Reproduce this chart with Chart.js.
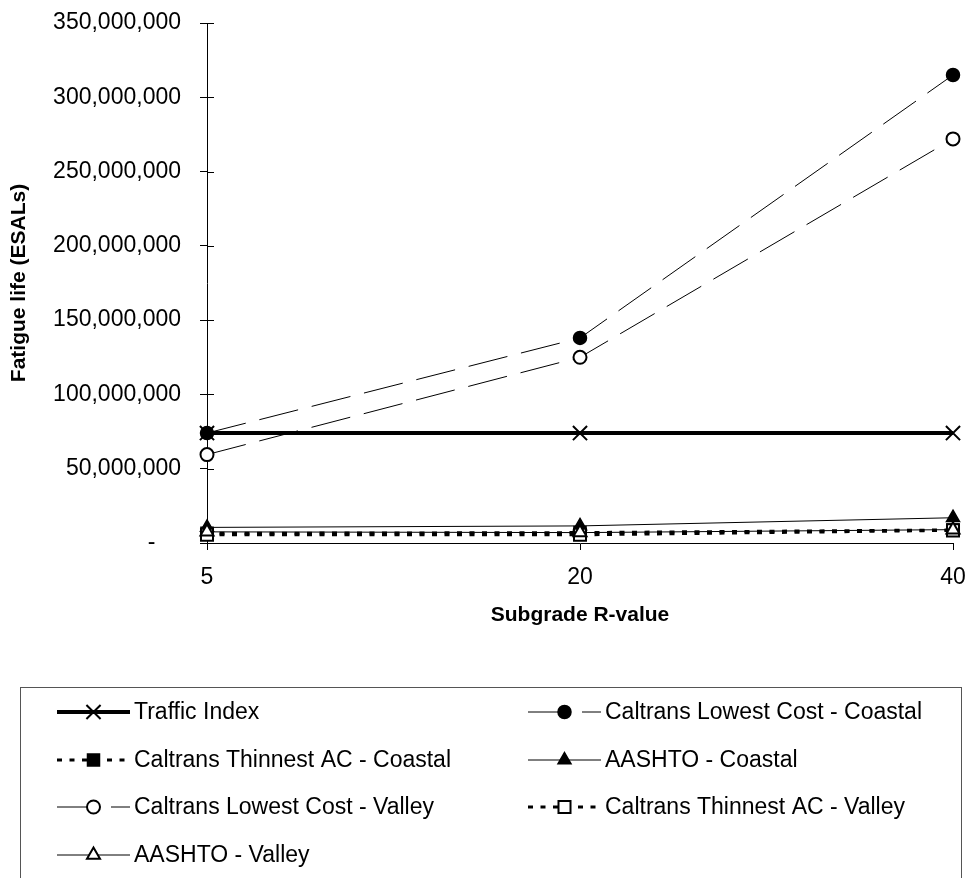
<!DOCTYPE html>
<html>
<head>
<meta charset="utf-8">
<script src="https://cdn.jsdelivr.net/npm/chart.js@4/dist/chart.umd.min.js"></script>
<style>
  html, body { margin: 0; padding: 0; background: #fff; overflow: hidden; }
  canvas { display: block; }
</style>
</head>
<body>
<canvas id="fatigueChart" width="967" height="878"></canvas>
<script>
// chart data
const rValues = ['5', '20', '40'];
const yTickValues = [0, 50e6, 100e6, 150e6, 200e6, 250e6, 300e6, 350e6];

const trafficIndex = [74e6, 74e6, 74e6];
const lowestCostCoastal = [74e6, 138e6, 315e6];
const thinnestCoastal = [6.5e6, 7e6, 8.8e6];
const aashtoCoastal = [10.5e6, 11.5e6, 17e6];
const lowestCostValley = [59.5e6, 125e6, 272e6];
const thinnestValley = [5.5e6, 5.5e6, 8.5e6];
const aashtoValley = [7.5e6, 7e6, 9e6];

const FONT = '"Liberation Sans", Arial, sans-serif';
Chart.defaults.font.family = FONT;
Chart.defaults.color = '#000';

const fmt = (v) => v === 0 ? '-    ' : String(Math.round(v)).replace(/\B(?=(\d{3})+(?!\d))/g, ',');

// draws the legend box under the plot
const legendBox = {
    id: 'legendBox',
    afterDraw(chart) {
        const ctx = chart.ctx;
        ctx.save();
        ctx.strokeStyle = '#555';
        ctx.lineWidth = 1;
        ctx.strokeRect(20.5, 687.5, 941, 260);

        chart.data.datasets.forEach((ds, i) => {
            const col = i % 2, row = Math.floor(i / 2);
            const x0 = col ? 528 : 57;
            const y = Math.round(712 + row * 47.7);

            ctx.setLineDash(ds.borderDash || []);
            ctx.lineWidth = ds.borderWidth;
            ctx.strokeStyle = ds.borderColor;
            ctx.beginPath();
            ctx.moveTo(x0, y);
            ctx.lineTo(x0 + 73, y);
            ctx.stroke();

            ctx.setLineDash([]);
            ctx.fillStyle = ds.pointBackgroundColor;
            ctx.strokeStyle = ds.pointBorderColor;
            ctx.lineWidth = ds.pointBorderWidth;
            Chart.helpers.drawPoint(ctx, {
                pointStyle: ds.pointStyle,
                radius: ds.pointRadius,
                borderWidth: ds.pointBorderWidth,
                rotation: 0
            }, x0 + 36.5, y);

            ctx.fillStyle = '#000';
            ctx.font = '23px ' + FONT;
            ctx.textBaseline = 'middle';
            ctx.textAlign = 'left';
            ctx.fillText(ds.label, x0 + 77, y + 1);
        });
        ctx.restore();
    }
};

// y tick marks cross the axis (inner half)
const innerTicks = {
    id: 'innerTicks',
    afterDatasetsDraw(chart) {
        const ctx = chart.ctx, y = chart.scales.y;
        ctx.save();
        ctx.strokeStyle = '#000';
        ctx.lineWidth = 1;
        y.ticks.forEach(t => {
            const py = Math.round(y.getPixelForValue(t.value)) + 0.5;
            ctx.beginPath();
            ctx.moveTo(y.right, py);
            ctx.lineTo(y.right + 7, py);
            ctx.stroke();
        });
        ctx.restore();
    }
};

function series(label, data, opts) {
    return Object.assign({
        label,
        data,
        borderColor: '#000',
        borderWidth: 1,
        borderDash: [],
        pointBorderColor: '#000',
        pointBackgroundColor: '#000',
        pointBorderWidth: 1.5,
        pointRadius: 6.5,
        pointStyle: 'circle',
        tension: 0,
        fill: false,
        clip: false
    }, opts);
}

const datasets = [
    series('Traffic Index', trafficIndex, { borderWidth: 4, pointStyle: 'crossRot', pointRadius: 10, pointBorderWidth: 2 }),
    series('Caltrans Lowest Cost - Coastal', lowestCostCoastal, { borderDash: [40, 14] }),
    series('Caltrans Thinnest AC - Coastal', thinnestCoastal, { borderWidth: 3, borderDash: [5, 7.5], pointStyle: 'rect', pointRadius: 8.5 }),
    series('AASHTO - Coastal', aashtoCoastal, { pointStyle: 'triangle', pointRadius: 7.5 }),
    series('Caltrans Lowest Cost - Valley', lowestCostValley, { borderDash: [40, 14], pointBackgroundColor: '#fff', pointBorderWidth: 2 }),
    series('Caltrans Thinnest AC - Valley', thinnestValley, { borderWidth: 3, borderDash: [5, 7.5], pointStyle: 'rect', pointRadius: 8.5, pointBackgroundColor: '#fff', pointBorderWidth: 2 }),
    series('AASHTO - Valley', aashtoValley, { pointStyle: 'triangle', pointRadius: 7.5, pointBackgroundColor: '#fff', pointBorderWidth: 2 })
];
// later series sit on top, like the original
datasets.forEach((ds, i) => { ds.order = datasets.length - i; });

new Chart(document.getElementById('fatigueChart').getContext('2d'), {
    type: 'line',
    data: { labels: rValues, datasets },
    plugins: [legendBox, innerTicks],
    options: {
        responsive: false,
        animation: false,
        devicePixelRatio: 1,
        layout: { padding: { left: 0, top: 23, right: 14, bottom: 218 } },
        plugins: { legend: { display: false }, tooltip: { enabled: false } },
        scales: {
            x: {
                type: 'category',
                offset: false,
                afterFit: s => { s.height = 117; s.paddingLeft = 0; s.paddingRight = 0; },
                grid: { drawOnChartArea: false, drawTicks: true, tickLength: 7, color: '#000' },
                border: { display: true, color: '#000', width: 1 },
                ticks: { font: { size: 23 }, padding: 14, maxRotation: 0 },
                title: { display: true, text: 'Subgrade R-value', font: { size: 21, weight: 'bold' }, padding: { top: 0, bottom: 32 } }
            },
            y: {
                min: 0,
                max: 350e6,
                afterFit: s => { s.width = 207; s.paddingTop = 0; s.paddingBottom = 0; },
                afterBuildTicks: s => { s.ticks = yTickValues.map(v => ({ value: v })); },
                grid: { drawOnChartArea: false, drawTicks: true, tickLength: 7, color: '#000' },
                border: { display: true, color: '#000', width: 1 },
                ticks: { font: { size: 23 }, padding: 19, callback: fmt },
                title: { display: true, text: 'Fatigue life (ESALs)', font: { size: 21, weight: 'bold' }, padding: { top: 7, bottom: 0 } }
            }
        }
    }
});
</script>
</body>
</html>
